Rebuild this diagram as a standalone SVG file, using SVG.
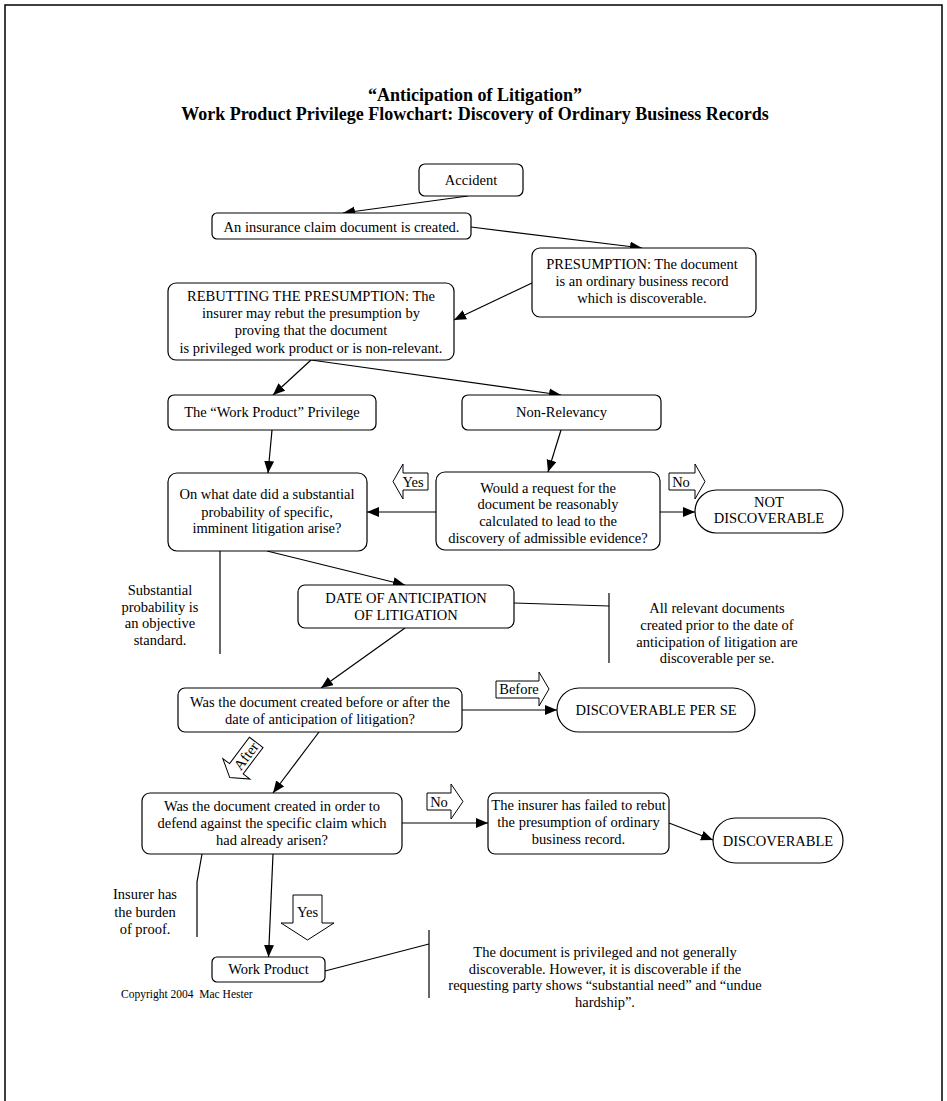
<svg xmlns="http://www.w3.org/2000/svg" width="947" height="1101" viewBox="0 0 947 1101">
<style>
.t{font-family:"Liberation Serif","Times New Roman",serif;font-size:14.5px;text-anchor:middle;fill:#000}
.ttl{font-family:"Liberation Serif","Times New Roman",serif;font-size:18px;font-weight:bold;text-anchor:middle;fill:#000}
.b{fill:#fff;stroke:#000;stroke-width:1.2}
.c line,.c polyline{stroke:#000;stroke-width:1.2;fill:none}
.a{marker-end:url(#ah)}
.blk{fill:#fff;stroke:#000;stroke-width:1}
</style>
<defs>
<marker id="ah" markerUnits="userSpaceOnUse" markerWidth="14" markerHeight="12" refX="12" refY="5" orient="auto">
<path d="M0,0 L12,5 L0,10 z" fill="#000"/>
</marker>
</defs>
<rect x="0" y="0" width="947" height="1101" fill="#fff"/>
<rect x="5" y="5" width="937" height="1110" fill="none" stroke="#000" stroke-width="1.5"/>
<g id="title">
<text class="ttl" x="475" y="101">“Anticipation of Litigation”</text>
<text class="ttl" x="475" y="120">Work Product Privilege Flowchart: Discovery of Ordinary Business Records</text>
</g>
<g class="c" id="connectors">
<line class="a" x1="468" y1="196" x2="343" y2="213"/>
<line class="a" x1="471" y1="227" x2="642" y2="248"/>
<line class="a" x1="532" y1="283" x2="454" y2="320"/>
<line class="a" x1="311" y1="360" x2="273" y2="395"/>
<line class="a" x1="311" y1="360" x2="561" y2="395"/>
<line class="a" x1="272" y1="430" x2="268" y2="473"/>
<line class="a" x1="561" y1="430" x2="548" y2="472"/>
<line class="a" x1="436" y1="512" x2="367" y2="512"/>
<line class="a" x1="660" y1="512" x2="695" y2="512"/>
<line x1="220" y1="551" x2="220" y2="654"/>
<line class="a" x1="267" y1="551" x2="405" y2="585"/>
<line x1="514" y1="603" x2="609" y2="606"/>
<line x1="609" y1="593" x2="609" y2="663"/>
<line class="a" x1="405" y1="628" x2="321" y2="688"/>
<line class="a" x1="462" y1="710" x2="557" y2="710"/>
<line class="a" x1="319" y1="732" x2="273" y2="793"/>
<line class="a" x1="402" y1="823" x2="488" y2="823"/>
<line class="a" x1="669" y1="823" x2="713" y2="840"/>
<polyline points="202,854 197,882 197,937"/>
<line class="a" x1="273" y1="854" x2="268.5" y2="957"/>
<line x1="325" y1="971" x2="429" y2="944"/>
<line x1="429" y1="930" x2="429" y2="998"/>
</g>
<g id="n-accident"><rect class="b" x="419" y="164" width="104" height="32" rx="6"/><text class="t" x="471" y="185">Accident</text></g>
<g id="n-claim"><rect class="b" x="212" y="213" width="259" height="26" rx="5"/><text class="t" x="341.5" y="232">An insurance claim document is created.</text></g>
<g id="n-presumption"><rect class="b" x="532" y="248" width="224" height="69" rx="8"/>
<text class="t" x="642" y="269">PRESUMPTION: The document</text>
<text class="t" x="642" y="286">is an ordinary business record</text>
<text class="t" x="642" y="303">which is discoverable.</text></g>
<g id="n-rebutting"><rect class="b" x="168" y="283" width="286" height="77" rx="8"/>
<text class="t" x="311" y="300.5">REBUTTING THE PRESUMPTION: The</text>
<text class="t" x="311" y="318">insurer may rebut the presumption by</text>
<text class="t" x="311" y="335">proving that the document</text>
<text class="t" x="311" y="352.5">is privileged work product or is non-relevant.</text></g>
<g id="n-wpp"><rect class="b" x="168" y="395" width="208" height="35" rx="6"/><text class="t" x="272" y="417">The “Work Product” Privilege</text></g>
<g id="n-nonrel"><rect class="b" x="462" y="395" width="199" height="35" rx="6"/><text class="t" x="561.5" y="417">Non-Relevancy</text></g>
<g id="n-q1"><rect class="b" x="168" y="473" width="199" height="78" rx="9"/>
<text class="t" x="267" y="499">On what date did a substantial</text>
<text class="t" x="267" y="516.5">probability of specific,</text>
<text class="t" x="267" y="533">imminent litigation arise?</text></g>
<g id="n-q2"><rect class="b" x="436" y="472" width="224" height="78" rx="9"/>
<text class="t" x="548" y="492.5">Would a request for the</text>
<text class="t" x="548" y="509.3">document be reasonably</text>
<text class="t" x="548" y="526">calculated to lead to the</text>
<text class="t" x="548" y="542.7">discovery of admissible evidence?</text></g>
<g id="lbl-yes1"><polygon class="blk" points="393,481.5 403,464 403,473 428,473 428,490 403,490 403,499"/><text class="t" x="413" y="486.5">Yes</text></g>
<g id="lbl-no1"><polygon class="blk" points="669,473 695,473 695,464 705,481.5 695,499 695,490 669,490"/><text class="t" x="681" y="487">No</text></g>
<g id="n-notdisc"><rect class="b" x="695" y="490" width="148" height="43" rx="21.5"/>
<text class="t" x="769" y="506.7">NOT</text>
<text class="t" x="769" y="523.3">DISCOVERABLE</text></g>
<g id="note-substantial">
<text class="t" x="160" y="595">Substantial</text>
<text class="t" x="160" y="611.7">probability is</text>
<text class="t" x="160" y="628.3">an objective</text>
<text class="t" x="160" y="645">standard.</text></g>
<g id="n-date"><rect class="b" x="298" y="585" width="216" height="43" rx="7"/>
<text class="t" x="406" y="602.7">DATE OF ANTICIPATION</text>
<text class="t" x="406" y="620">OF LITIGATION</text></g>
<g id="note-prior">
<text class="t" x="717" y="613.3">All relevant documents</text>
<text class="t" x="717" y="630">created prior to the date of</text>
<text class="t" x="717" y="646.7">anticipation of litigation are</text>
<text class="t" x="717" y="663.3">discoverable per se.</text></g>
<g id="n-q3"><rect class="b" x="178" y="688" width="284" height="44" rx="7"/>
<text class="t" x="320" y="706.7">Was the document created before or after the</text>
<text class="t" x="320" y="724">date of anticipation of litigation?</text></g>
<g id="lbl-before"><polygon class="blk" points="496,681 539,681 539,672 549,689 539,706 539,698 496,698"/><text class="t" x="519" y="694">Before</text></g>
<g id="n-dps"><rect class="b" x="557" y="688" width="198" height="44" rx="22"/><text class="t" x="656" y="715">DISCOVERABLE PER SE</text></g>
<g id="lbl-after" transform="translate(243,760) rotate(-53)"><polygon class="blk" points="-22,0 -11,-17 -11,-8.5 22,-8.5 22,8.5 -11,8.5 -11,17"/><text class="t" x="5" y="5">After</text></g>
<g id="n-q4"><rect class="b" x="142" y="793" width="260" height="61" rx="8"/>
<text class="t" x="272" y="810.7">Was the document created in order to</text>
<text class="t" x="272" y="828.3">defend against the specific claim which</text>
<text class="t" x="272" y="845">had already arisen?</text></g>
<g id="lbl-no2"><polygon class="blk" points="427,793 451,793 451,784 463,801.5 451,819 451,810 427,810"/><text class="t" x="439" y="806.5">No</text></g>
<g id="n-failed"><rect class="b" x="488" y="793" width="181" height="61" rx="7"/>
<text class="t" x="578.5" y="810">The insurer has failed to rebut</text>
<text class="t" x="578.5" y="827.3">the presumption of ordinary</text>
<text class="t" x="578.5" y="844">business record.</text></g>
<g id="n-disc"><rect class="b" x="713" y="818" width="130" height="45" rx="22.5"/><text class="t" x="778" y="846">DISCOVERABLE</text></g>
<g id="note-burden">
<text class="t" x="145" y="899.3">Insurer has</text>
<text class="t" x="145" y="916.7">the burden</text>
<text class="t" x="145" y="934">of proof.</text></g>
<g id="lbl-yes2"><polygon class="blk" points="293,895 322,895 322,923 334,923 307.5,940 281,923 293,923"/><text class="t" x="307.5" y="917">Yes</text></g>
<g id="n-wp"><rect class="b" x="212" y="957" width="113" height="25" rx="5"/><text class="t" x="268.5" y="974">Work Product</text></g>
<g id="note-privileged">
<text class="t" x="605" y="957">The document is privileged and not generally</text>
<text class="t" x="605" y="973.5">discoverable. However, it is discoverable if the</text>
<text class="t" x="605" y="990">requesting party shows “substantial need” and “undue</text>
<text class="t" x="605" y="1006.5">hardship”.</text></g>
<g id="copyright"><text x="121" y="998" style="font-family:'Liberation Serif','Times New Roman',serif;font-size:11.5px;fill:#000" xml:space="preserve">Copyright 2004  Mac Hester</text></g>
</svg>
